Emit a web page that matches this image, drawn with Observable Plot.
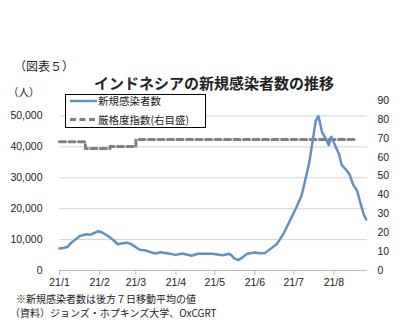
<!DOCTYPE html>
<html><head><meta charset="utf-8">
<script src="https://cdn.jsdelivr.net/npm/d3@7"></script>
<script src="https://cdn.jsdelivr.net/npm/@observablehq/plot@0.6"></script>
<style>
body{margin:0;background:#fff;}
#wrap{position:relative;width:410px;height:332px;font-family:"Noto Sans CJK JP",sans-serif;color:#222;overflow:hidden;}
#wrap svg{position:absolute;left:0;top:0;}
.t{position:absolute;white-space:nowrap;line-height:1;transform:translateY(-50%);}
</style></head><body><div id="wrap"></div>
<script>
// ---- data ----
const caseDates = ["2021-01-01","2021-01-04","2021-01-07","2021-01-10","2021-01-14","2021-01-17","2021-01-22","2021-01-25","2021-01-28","2021-01-31",
"2021-02-03","2021-02-08","2021-02-12","2021-02-15","2021-02-19","2021-02-22","2021-02-25","2021-03-01","2021-03-04","2021-03-09",
"2021-03-12","2021-03-16","2021-03-20","2021-03-25","2021-04-01","2021-04-06","2021-04-09","2021-04-13","2021-04-18","2021-04-24",
"2021-04-29","2021-05-03","2021-05-07","2021-05-12","2021-05-14","2021-05-16","2021-05-19","2021-05-22","2021-05-26","2021-06-01",
"2021-06-05","2021-06-09","2021-06-13","2021-06-18","2021-06-23","2021-06-28","2021-07-03","2021-07-07","2021-07-11","2021-07-13",
"2021-07-16","2021-07-18","2021-07-20","2021-07-21","2021-07-23","2021-07-26","2021-07-28","2021-07-30","2021-08-01","2021-08-05",
"2021-08-07","2021-08-11","2021-08-13","2021-08-16","2021-08-19","2021-08-21","2021-08-24","2021-08-26"];
const caseValues = [7100,7300,7600,8900,10300,11200,11700,11600,12200,12700,
12300,11000,9700,8500,8800,9000,8600,7500,6700,6450,
6000,5500,5900,5600,5050,5500,5200,4750,5400,5400,
5400,5200,4950,5400,4900,3900,3350,4100,5400,5800,
5600,5700,7000,8600,11800,16100,20400,24200,31200,34900,
43000,48400,50000,48400,44600,42500,40600,43300,41400,37600,
34200,32300,31200,27700,25800,22600,18300,16500];
const strictDates = ["2021-01-01","2021-01-21","2021-02-09","2021-03-01","2021-08-18"];
const strictValues = [68.1,64.6,65.6,69.3,69.3];
const monthTicks = ["2021-01-01","2021-02-01","2021-03-01","2021-04-01","2021-05-01","2021-06-01","2021-07-01","2021-08-01"];
const leftTicks = [0,10000,20000,30000,40000,50000];
const rightTicks = [0,10,20,30,40,50,60,70,80,90];
const seriesNames = ["新規感染者数","厳格度指数(右目盛)"];

const LMAX = 55000, RMAX = 90;
const toL = v => v * LMAX / RMAX;
const cases = caseDates.map((d,i)=>({date:new Date(d), v:caseValues[i]}));
const strict = strictDates.map((d,i)=>({date:new Date(d), v:strictValues[i]}));
const blue = "#6390bd", grey = "#808080";

const chart = Plot.plot({
  width:410, height:332,
  marginLeft:59, marginRight:43, marginTop:100, marginBottom:62,
  style:{fontFamily:"Liberation Sans, Arial, sans-serif", fontSize:"10.5px", color:"#222", background:"transparent"},
  x:{type:"utc", domain:[new Date("2021-01-01"), new Date("2021-08-27")]},
  y:{domain:[0,LMAX]},
  marks:[
    Plot.gridY(leftTicks.filter(d=>d>0), {stroke:"#d4d4d4", strokeOpacity:1}),
    Plot.ruleY([0], {stroke:"#bdbdbd"}),
    Plot.axisX(monthTicks.map(d=>new Date(d)), {tickSize:5, tickPadding:3, stroke:"#bdbdbd", fill:"#222", fontSize:10.5, label:null,
      tickFormat:d=>`21/${d.getUTCMonth()+1}`}),
    Plot.axisY(leftTicks, {anchor:"left", tickSize:0, tickPadding:17, label:null, fontSize:10.5, tickFormat:d3.format(",")}),
    Plot.axisY(rightTicks.map(toL), {anchor:"right", tickSize:0, tickPadding:10, label:null, fontSize:10.5,
      tickFormat:d=>String(Math.round(d*RMAX/LMAX))}),
    Plot.line(strict, {x:"date", y:d=>toL(d.v), curve:"step-after", stroke:grey, strokeWidth:3, strokeDasharray:"6,3.5"}),
    Plot.line(cases, {x:"date", y:"v", stroke:blue, strokeWidth:2.5, strokeLinejoin:"round"})
  ]
});
const wrap = document.getElementById("wrap");
wrap.appendChild(chart);

function addText(txt, left, cy, size, extra){
  const el = document.createElement("div");
  el.className = "t"; el.textContent = txt;
  el.style.left = left+"px"; el.style.top = cy+"px"; el.style.fontSize = size+"px";
  if (extra) Object.assign(el.style, extra);
  wrap.appendChild(el); return el;
}
addText("（図表５）", 14, 66, 12);
addText("インドネシアの新規感染者数の推移", 214, 82, 15, {transform:"translate(-50%,-50%)", fontWeight:"bold"});
addText("（人）", 8, 92, 10.5);
addText("※新規感染者数は後方７日移動平均の値", 16, 299, 10);
addText("（資料）ジョンズ・ホプキンズ大学、OxCGRT", 10, 313, 10);

// legend box
const box = document.createElement("div");
Object.assign(box.style,{position:"absolute",left:"65px",top:"94px",width:"141px",height:"34px",border:"1px solid #000",background:"#fff",boxSizing:"border-box"});
box.innerHTML = `<svg width="141" height="34" style="position:absolute;left:-1px;top:-1px">
<line x1="5" x2="32" y1="7" y2="7" stroke="${blue}" stroke-width="2.5"/>
<line x1="5" x2="32" y1="25.5" y2="25.5" stroke="${grey}" stroke-width="3" stroke-dasharray="6,3.5"/></svg>`;
wrap.appendChild(box);
addText(seriesNames[0], 98, 101, 10.5);
addText(seriesNames[1], 98, 120, 10.5);
</script></body></html>
